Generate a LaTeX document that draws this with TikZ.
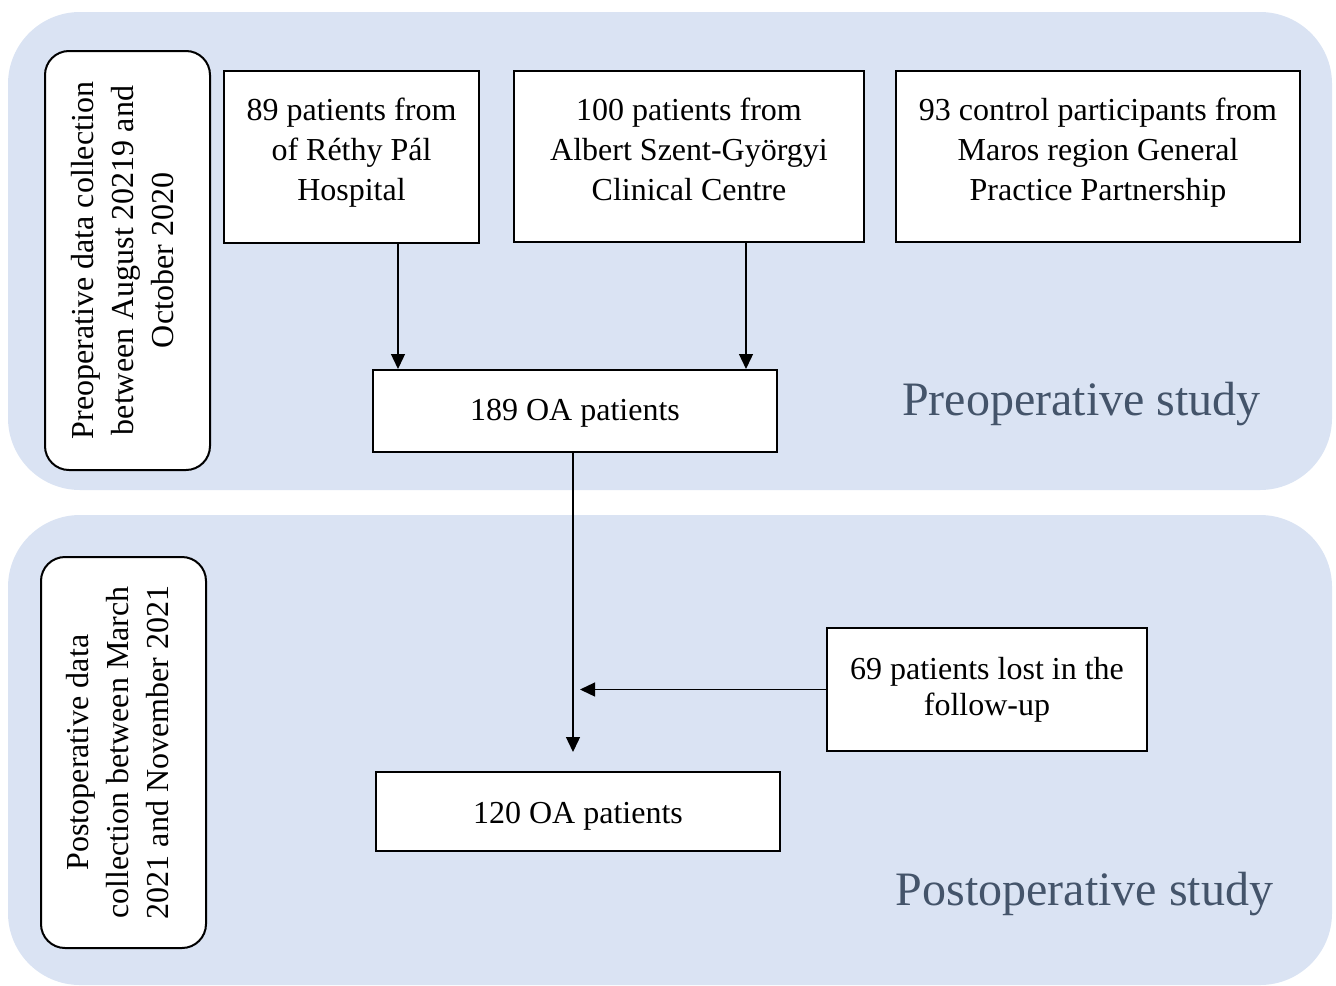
\documentclass[tikz,border=0pt]{standalone}
\usepackage{fontspec}
\setmainfont{Liberation Serif}
\usetikzlibrary{arrows.meta}

\definecolor{panelblue}{RGB}{218,227,243}
\definecolor{titleslate}{RGB}{68,84,106}

\tikzset{
  box/.style={draw=black, fill=white, line width=1pt, align=center,
    font=\fontsize{16}{20}\selectfont},
  sidebox/.style={box, rounded corners=12pt, rotate=90,
    minimum height=82.5pt},
  flow/.style={line width=0.65pt, -{Triangle[width=7pt,length=7.5pt]}},
  studytitle/.style={text=titleslate, font=\fontsize{24}{28}\selectfont}
}

\begin{document}
\begin{tikzpicture}[x=0.5pt, y=-0.5pt]
    \useasboundingbox (0,0) rectangle (1336,985);

    % draw the two study panels
    \fill[panelblue, rounded corners=36pt] (8,12) rectangle (1332,490);
    \fill[panelblue, rounded corners=36pt] (8,515) rectangle (1332,985);

    % draw side labels
    \node[sidebox, minimum width=209.5pt, text depth=5pt] (preside) at (127.5,260.5)
      {Preoperative data collection\\between August 20219 and\\October 2020};
    \node[sidebox, minimum width=195.5pt, text depth=6pt] (postside) at (123.5,752.5)
      {Postoperative data\\collection between March\\2021 and November 2021};

    % draw source boxes
    \node[box, minimum width=127.5pt, minimum height=86pt, text depth=7.5pt] (rethy) at (351.5,157)
      {89 patients from\\of Réthy Pál\\Hospital};
    \node[box, minimum width=175pt, minimum height=85.5pt, text depth=7.5pt] (albert) at (689,156.5)
      {100 patients from\\Albert Szent-Györgyi\\Clinical Centre};
    \node[box, minimum width=202pt, minimum height=85.5pt, text depth=7.5pt] (control) at (1098,156.5)
      {93 control participants from\\Maros region General\\Practice Partnership};

    % draw patient boxes
    \node[box, minimum width=202pt, minimum height=41pt, text height=13pt] (preOA) at (575,411)
      {189 OA patients};
    \node[box, minimum width=160pt, minimum height=61.5pt,
          font=\fontsize{16}{18}\selectfont] (lost) at (987,689.5)
      {69 patients lost in the\\follow-up};
    \node[box, minimum width=202pt, minimum height=39.5pt, text height=15.5pt] (postOA) at (578,811.5)
      {120 OA patients};

    % draw study titles
    \node[studytitle] (pretitle) at (1081.5,404) {Preoperative study};
    \node[studytitle] (posttitle) at (1084.5,894) {Postoperative study};

    % draw arrows
    \coordinate (flowend) at (573,752);
    \coordinate (lostend) at (580,689.5);
    \draw[flow] ([xshift=23.25pt]rethy.south) -- ([xshift=23.25pt]rethy.south |- preOA.north);
    \draw[flow] ([xshift=28.5pt]albert.south) -- ([xshift=28.5pt]albert.south |- preOA.north);
    \draw[flow] (preOA.south -| flowend) -- (flowend);
    \draw[flow] (lost.west) -- (lostend);

\end{tikzpicture}
\end{document}
